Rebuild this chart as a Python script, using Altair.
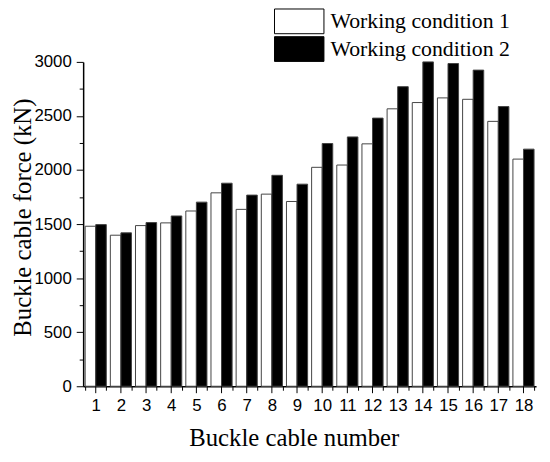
import altair as alt
import pandas as pd

cables = list(range(1, 19))
conditions = ["Working condition 1", "Working condition 2"]
wc1 = [1480, 1397, 1486, 1511, 1621, 1789, 1636, 1777, 1709, 2025, 2046, 2242, 2566, 2624, 2667, 2654, 2450, 2101]
wc2 = [1495, 1419, 1514, 1575, 1703, 1878, 1768, 1951, 1869, 2245, 2306, 2480, 2771, 3000, 2985, 2924, 2587, 2193]
y_ticks = list(range(0, 3001, 250))

rows = []
for i, c in enumerate(cables):
    rows.append({"cable": c, "condition": conditions[0], "force": wc1[i]})
    rows.append({"cable": c, "condition": conditions[1], "force": wc2[i]})
df = pd.DataFrame(rows)
df_cables = pd.DataFrame({"cable": cables})

SANS = "Liberation Sans"
SERIF = "Liberation Serif"

x_enc = alt.X(
    "cable:O",
    scale=alt.Scale(paddingInner=0.16, paddingOuter=0.08),
    axis=alt.Axis(
        title="Buckle cable number",
        labelAngle=0,
        labelFont=SANS,
        labelFontSize=17,
        labelColor="black",
        labelPadding=8,
        tickBand="extent",
        tickSize=4,
        tickColor="black",
        tickWidth=1,
        domainColor="black",
        domainWidth=1.5,
        titleFont=SERIF,
        titleFontSize=25,
        titleFontWeight="normal",
        titleColor="black",
        titleX=213,
        titleY=60,
        titleAlign="center",
        titleBaseline="alphabetic",
        grid=False,
    ),
)

bars = alt.Chart(df).mark_bar(stroke="#444", strokeWidth=1).encode(
    x=x_enc,
    xOffset=alt.XOffset("condition:N", sort=conditions,
                        scale=alt.Scale(paddingInner=0, paddingOuter=0)),
    y=alt.Y(
        "force:Q",
        scale=alt.Scale(domain=[0, 3000], nice=False),
        axis=alt.Axis(
            title="Buckle cable force (kN)",
            values=y_ticks,
            format="d",
            labelExpr="datum.value % 500 === 0 ? datum.label : ''",
            tickSize={"condition": {"test": "datum.value % 500 === 0", "value": 7}, "value": 4},
            tickColor="black",
            tickWidth=1,
            labelFont=SANS,
            labelFontSize=17,
            labelColor="black",
            labelPadding=5,
            domainColor="black",
            domainWidth=1.5,
            titleFont=SERIF,
            titleFontSize=25,
            titleFontWeight="normal",
            titleColor="black",
            titleAngle=270,
            titleX=-53,
            titleY=157,
            titleAlign="center",
            titleBaseline="alphabetic",
            grid=False,
        ),
    ),
    fill=alt.Fill(
        "condition:N",
        scale=alt.Scale(domain=conditions, range=["white", "black"]),
        legend=alt.Legend(
            title=None,
            orient="none",
            legendX=205.5,
            legendY=-54,
            symbolType="M-2,-1H2V1H-2Z",
            symbolSize=625,
            symbolStrokeColor="black",
            symbolStrokeWidth=1,
            labelFont=SERIF,
            labelFontSize=22,
            labelColor="black",
            labelLimit=400,
            labelOffset=18.5,
            rowPadding=-3,
            padding=0,
        ),
    ),
)

major_ticks = alt.Chart(df_cables).mark_rule(color="black", strokeWidth=1).encode(
    x=x_enc,
    y=alt.value(328),
    y2=alt.value(335),
)

chart = alt.layer(bars, major_ticks).properties(
    width=458,
    height=328,
    autosize=alt.AutoSizeParams(type="none"),
    padding={"left": 76, "top": 52, "right": 6, "bottom": 66},
    background="white",
).configure_view(stroke=None)

chart.save("out.html", embed_options={"renderer": "svg", "actions": False})
